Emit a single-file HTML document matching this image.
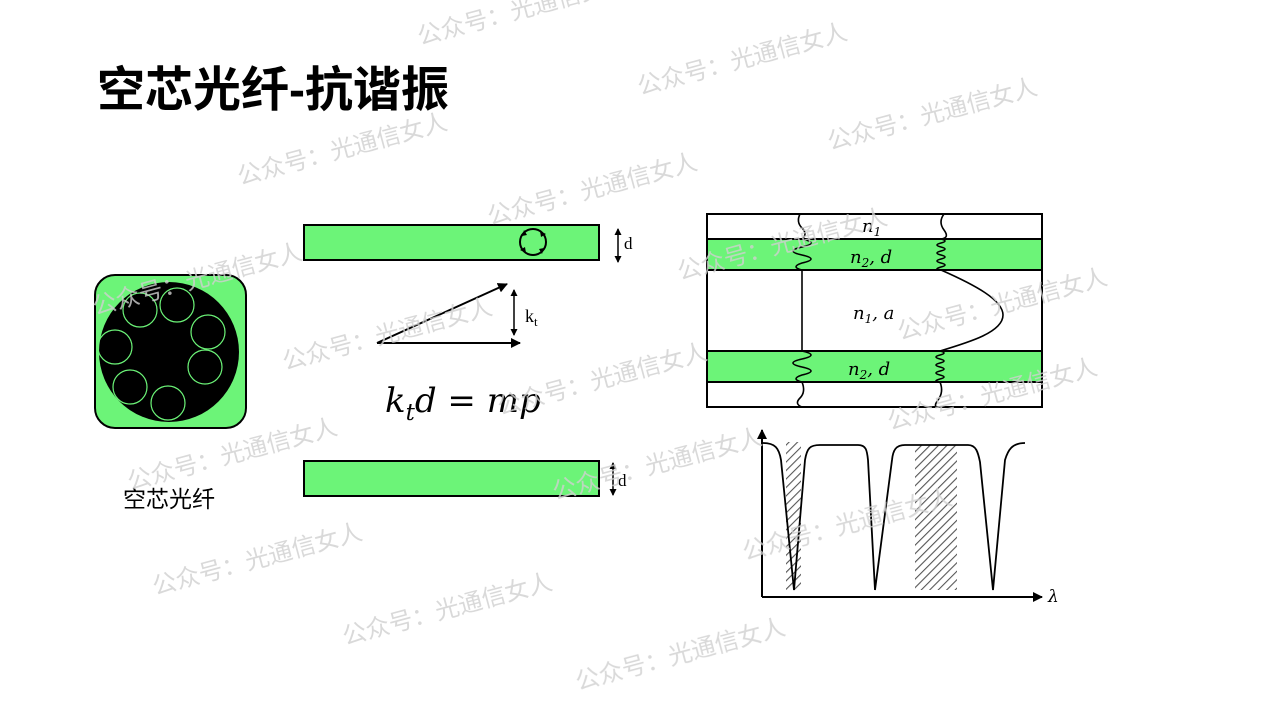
<!DOCTYPE html>
<html><head><meta charset="utf-8"><style>
html,body{margin:0;padding:0;background:#fff;}
body{width:1268px;height:713px;overflow:hidden;position:relative;}
svg{position:absolute;left:0;top:0;}
</style></head><body>
<svg width="1268" height="713" viewBox="0 0 1268 713" xmlns="http://www.w3.org/2000/svg">
<defs>
<pattern id="h" patternUnits="userSpaceOnUse" width="6" height="6" patternTransform="rotate(45)">
<rect width="6" height="6" fill="#fff"/><line x1="0" y1="0" x2="0" y2="6" stroke="#555" stroke-width="2.2"/>
</pattern>
<marker id="a" markerWidth="10" markerHeight="10" refX="9" refY="5" orient="auto" markerUnits="userSpaceOnUse"><path d="M0,0 L10,5 L0,10z" fill="#000"/></marker>
<marker id="s" markerWidth="7" markerHeight="7" refX="6" refY="3.5" orient="auto" markerUnits="userSpaceOnUse"><path d="M0,0 L7,3.5 L0,7z" fill="#000"/></marker>
<marker id="sr" markerWidth="7" markerHeight="7" refX="1" refY="3.5" orient="auto" markerUnits="userSpaceOnUse"><path d="M7,0 L0,3.5 L7,7z" fill="#000"/></marker>
</defs>

<text x="97" y="106" font-family="'Liberation Sans','Noto Sans CJK SC',sans-serif" font-weight="bold" font-size="48" fill="#000">空芯光纤-抗谐振</text>

<!-- fiber -->
<rect x="95" y="275" width="151" height="153" rx="20" fill="#6cf478" stroke="#000" stroke-width="2"/>
<circle cx="169" cy="352" r="70" fill="#000"/>
<g fill="none" stroke="#6cf478" stroke-width="1.2">
<circle cx="140" cy="310" r="17"/><circle cx="177" cy="305" r="17"/><circle cx="208" cy="332" r="17"/>
<circle cx="115" cy="347" r="17"/><circle cx="205" cy="367" r="17"/><circle cx="130" cy="387" r="17"/><circle cx="168" cy="403" r="17"/>
</g>
<text x="123" y="507" font-family="'Liberation Sans','Noto Sans CJK SC',sans-serif" font-size="23" fill="#000">空芯光纤</text>

<!-- bars -->
<rect x="304" y="225" width="295" height="35" fill="#6cf478" stroke="#000" stroke-width="2"/>
<circle cx="533" cy="242" r="13" fill="none" stroke="#000" stroke-width="2"/>
<path d="M522,236 l2,-6 l3,5z M540,231 l6,3 l-5,3z M544,248 l-2,6 l-3,-5z M526,253 l-6,-3 l5,-3z" fill="#000"/>
<line x1="618" y1="229" x2="618" y2="262" stroke="#000" stroke-width="1.5" marker-end="url(#s)" marker-start="url(#sr)"/>
<text x="624" y="249" font-family="'Liberation Serif',serif" font-size="17">d</text>

<line x1="377" y1="343" x2="507" y2="284" stroke="#000" stroke-width="2" marker-end="url(#a)"/>
<line x1="377" y1="343" x2="520" y2="343" stroke="#000" stroke-width="2" marker-end="url(#a)"/>
<line x1="514" y1="290" x2="514" y2="335" stroke="#000" stroke-width="1.5" marker-end="url(#s)" marker-start="url(#sr)"/>
<text x="525" y="322" font-family="'Liberation Serif',serif" font-size="18">k<tspan font-size="13" dy="4">t</tspan></text>

<text x="385" y="412" font-family="'DejaVu Serif','Liberation Serif',serif" font-style="italic" font-size="34">k<tspan font-size="23" dy="8">t</tspan><tspan dy="-8">d = mp</tspan></text>

<rect x="304" y="461" width="295" height="35" fill="#6cf478" stroke="#000" stroke-width="2"/>
<line x1="613" y1="463" x2="613" y2="495" stroke="#000" stroke-width="1.5" marker-end="url(#s)" marker-start="url(#sr)"/>
<text x="618" y="486" font-family="'Liberation Serif',serif" font-size="17">d</text>

<!-- right structure -->
<rect x="707" y="214" width="335" height="193" fill="#fff" stroke="#000" stroke-width="2"/>
<rect x="707" y="239" width="335" height="31" fill="#6cf478" stroke="#000" stroke-width="2"/>
<rect x="707" y="351" width="335" height="31" fill="#6cf478" stroke="#000" stroke-width="2"/>
<g fill="none" stroke="#000" stroke-width="1.6">
<path d="M800,214 Q796,222 802,228 T802,239"/>
<path d="M802,239 Q820,243 802,247 T802,255 T802,263 Q790,267 802,270"/>
<line x1="802" y1="270" x2="802" y2="351"/>
<path d="M802,351 Q820,355 802,359 T802,367 T802,375 Q790,379 802,382"/>
<path d="M802,382 Q806,392 800,398 T802,407"/>
<path d="M944,214 Q938,222 944,230 T941,239"/>
<path d="M941,239 Q949,241 941,243 T941,247 T941,251 T941,255 T941,259 T941,263 T941,267 T941,270"/>
<path d="M941,270 C975,285 1003,300 1003,315 C1003,332 970,342 940,351"/>
<path d="M940,351 Q948,353 940,355 T940,359 T940,363 T940,367 T940,371 T940,375 T940,379 T940,382"/>
<path d="M940,382 Q944,392 938,400 T940,407"/>
</g>
<g font-family="'DejaVu Serif','Liberation Serif',serif" font-style="italic" font-size="18">
<text x="862" y="232">n<tspan font-size="12" dy="4">1</tspan></text>
<text x="850" y="263">n<tspan font-size="12" dy="4">2</tspan><tspan dy="-4">,  d</tspan></text>
<text x="853" y="319">n<tspan font-size="12" dy="4">1</tspan><tspan dy="-4">,  a</tspan></text>
<text x="848" y="375">n<tspan font-size="12" dy="4">2</tspan><tspan dy="-4">,  d</tspan></text>
</g>

<!-- spectrum -->
<rect x="786" y="442" width="15" height="148" fill="url(#h)"/>
<rect x="915" y="445" width="42" height="145" fill="url(#h)"/>
<line x1="762" y1="597" x2="762" y2="430" stroke="#000" stroke-width="2" marker-end="url(#a)"/>
<line x1="762" y1="597" x2="1042" y2="597" stroke="#000" stroke-width="2" marker-end="url(#a)"/>
<text x="1048" y="602" font-family="'DejaVu Serif',serif" font-style="italic" font-size="17">λ</text>
<path d="M763,443 C775,443 779,448 781,460 L794,590 L805,460 C807,448 810,445 820,445 L858,445 C866,445 867,450 868,460 L875,590 L892,460 C893,450 896,445 905,445 L968,445 C976,445 978,452 980,462 L993,590 L1005,460 C1008,450 1012,443 1025,443" fill="none" stroke="#000" stroke-width="1.8"/>

<!-- watermarks -->
<g font-family="'Noto Sans CJK SC',sans-serif" font-size="24" fill="#d0d0d0" opacity="0.8">
<text transform="translate(420,45) rotate(-15)">公众号：光通信女人</text>
<text transform="translate(640,95) rotate(-15)">公众号：光通信女人</text>
<text transform="translate(830,150) rotate(-15)">公众号：光通信女人</text>
<text transform="translate(240,185) rotate(-15)">公众号：光通信女人</text>
<text transform="translate(490,225) rotate(-15)">公众号：光通信女人</text>
<text transform="translate(95,315) rotate(-15)">公众号：光通信女人</text>
<text transform="translate(680,280) rotate(-15)">公众号：光通信女人</text>
<text transform="translate(900,340) rotate(-15)">公众号：光通信女人</text>
<text transform="translate(285,370) rotate(-15)">公众号：光通信女人</text>
<text transform="translate(500,415) rotate(-15)">公众号：光通信女人</text>
<text transform="translate(890,430) rotate(-15)">公众号：光通信女人</text>
<text transform="translate(130,490) rotate(-15)">公众号：光通信女人</text>
<text transform="translate(555,500) rotate(-15)">公众号：光通信女人</text>
<text transform="translate(745,560) rotate(-15)">公众号：光通信女人</text>
<text transform="translate(155,595) rotate(-15)">公众号：光通信女人</text>
<text transform="translate(345,645) rotate(-15)">公众号：光通信女人</text>
<text transform="translate(578,690) rotate(-15)">公众号：光通信女人</text>
</g>
</svg>
</body></html>
